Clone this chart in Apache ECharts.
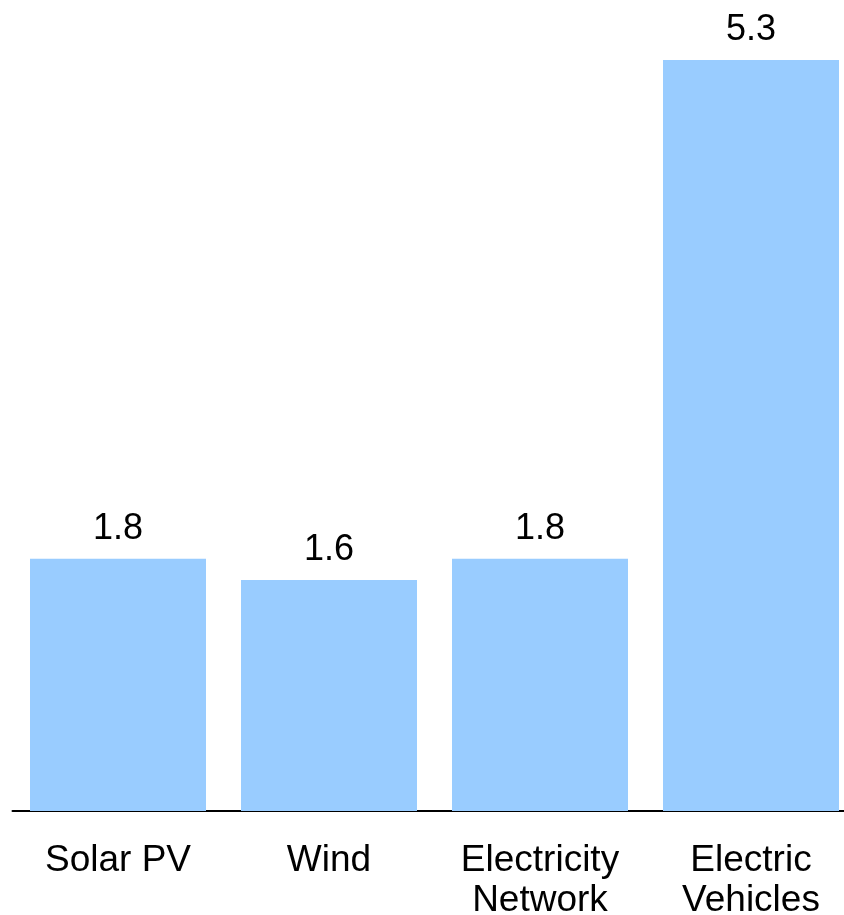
<!DOCTYPE html>
<html>
<head>
<meta charset="utf-8">
<script src="https://cdn.jsdelivr.net/npm/echarts@6/dist/echarts.min.js"></script>
<style>
html,body{margin:0;padding:0;background:#fff;}
#chart{width:844px;height:915px;}
</style>
</head>
<body>
<div id="chart"></div>
<script>
const categories = ['Solar PV', 'Wind', 'Electricity\nNetwork', 'Electric\nVehicles'];
const values = [1.78, 1.63, 1.78, 5.3];
const valueLabels = ['1.8', '1.6', '1.8', '5.3'];

const chart = echarts.init(document.getElementById('chart'), null, {renderer: 'canvas'});
chart.setOption({
  animation: false,
  grid: {left: 12.5, top: 60, width: 844, height: 751, outerBoundsMode: 'none', containLabel: false},
  xAxis: {
    type: 'category',
    data: categories,
    axisLine: {lineStyle: {color: '#000', width: 2}},
    axisTick: {show: false},
    axisLabel: {
      color: '#000', fontFamily: 'Liberation Sans, Arial, sans-serif',
      fontSize: 37, lineHeight: 40, margin: 30, interval: 0
    }
  },
  yAxis: {
    type: 'value', min: 0, max: 5.3,
    show: false, splitLine: {show: false}
  },
  series: [{
    type: 'bar',
    data: values,
    barWidth: 176,
    itemStyle: {color: '#99CCFF'},
    label: {
      show: true, position: 'top', distance: 12,
      color: '#000', fontFamily: 'Liberation Sans, Arial, sans-serif', fontSize: 36,
      formatter: p => valueLabels[p.dataIndex]
    }
  }]
});
</script>
</body>
</html>
